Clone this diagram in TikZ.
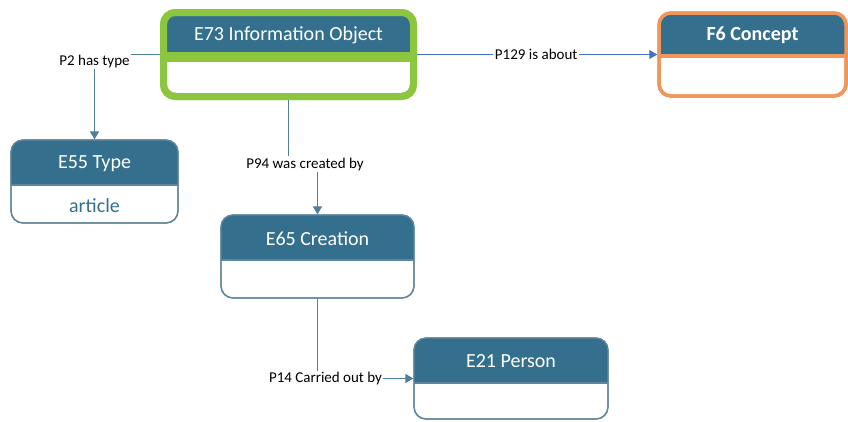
\documentclass[tikz,border=0pt]{standalone}
\usepackage{fontspec}
\setmainfont{Carlito}
\usetikzlibrary{arrows.meta,calc}

\definecolor{hdrteal}{RGB}{52,112,142}
\definecolor{boxgray}{RGB}{95,135,155}
\definecolor{linkteal}{RGB}{80,128,152}
\definecolor{linkblue}{RGB}{68,114,196}
\definecolor{objgreen}{RGB}{140,198,63}
\definecolor{conorange}{RGB}{240,150,90}

\tikzset{
    entity/.style={draw=boxgray, line width=1.3pt, rounded corners=12pt, fill=white, inner sep=0pt, outer sep=0pt},
    title/.style={text=white, font=\fontsize{20}{24}\selectfont},
    link/.style={draw=linkteal, line width=1.1pt, -{Triangle[width=9pt,length=8pt]}},
    prop/.style={fill=white, inner sep=1.5pt, font=\fontsize{15}{17}\selectfont},
}

\begin{document}
\begin{tikzpicture}[x=1pt, y=-1pt]
    \useasboundingbox (0,0) rectangle (848,421);

    % entity boxes
    \node[entity, draw=objgreen, line width=7pt, minimum width=250pt, minimum height=84pt] (e73) at (288.5,54.5) {};
    \node[entity, draw=conorange, line width=3.5pt, minimum width=187pt, minimum height=83pt] (f6) at (752.5,54.5) {};
    \node[entity, minimum width=167pt, minimum height=83pt] (e55) at (94.5,181.5) {};
    \node[entity, minimum width=193pt, minimum height=83pt] (e65) at (317.5,256.5) {};
    \node[entity, minimum width=194pt, minimum height=81pt] (e21) at (511,378.5) {};

    % headers
    \foreach \n/\h/\c/\w/\t in {e73/44.5/objgreen/10pt/E73 Information Object,
                                f6/42.5/conorange/4pt/\textbf{F6 Concept},
                                e55/45/boxgray/1.3pt/E55 Type,
                                e65/45/boxgray/1.3pt/E65 Creation,
                                e21/45/boxgray/1.3pt/E21 Person}{
        \begin{scope}
            \clip[rounded corners=12pt] (\n.north west) rectangle (\n.south east);
            \fill[hdrteal] (\n.north west) rectangle ($(\n.north east)+(0,\h)$);
        \end{scope}
        \draw[\c, line width=\w] ($(\n.north west)+(0,\h)$) -- ($(\n.north east)+(0,\h)$);
        \node[title] (\n-title) at ($(\n.north)+(0,\h/2+1)$) {\t};
    }
    % borders again, over the headers
    \draw[objgreen, line width=7pt, rounded corners=12pt] (e73.north west) rectangle (e73.south east);
    \draw[conorange, line width=3.5pt, rounded corners=12pt] (f6.north west) rectangle (f6.south east);
    \foreach \n in {e55,e65,e21}
        \draw[boxgray, line width=1.3pt, rounded corners=12pt] (\n.north west) rectangle (\n.south east);

    \node[text=hdrteal, font=\fontsize{20}{24}\selectfont] (e55-body) at ($(e55.north)+(0,66)$) {article};

    % links
    \draw[link, shorten <=3.5pt, shorten >=0.6pt] (e73.west) -| node[prop, yshift=-7pt]{P2 has type} (e55.north);
    \draw[link, draw=linkblue, shorten <=3.5pt, shorten >=1.75pt] (e73.east) -- node[prop]{P129 is about} (f6.west);
    \coordinate (p94c) at ($(e73.south)!0.57!(e65.north)$);
    \draw[link, shorten <=3.5pt, shorten >=0.6pt] (e73.south) |- (p94c) -| (e65.north);
    \node[prop] (p94) at (p94c) {P94 was created by};
    \draw[link, shorten <=0.6pt, shorten >=0.6pt] (e65.south) |- node[prop, xshift=8pt]{P14 Carried out by} (e21.west);
\end{tikzpicture}
\end{document}
